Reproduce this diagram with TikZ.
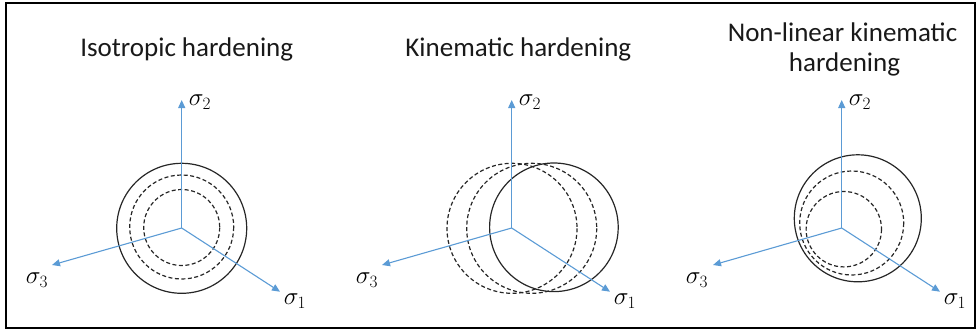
\documentclass[tikz,border=0pt]{standalone}
\usepackage{fontspec}
\setmainfont{Carlito}
\usetikzlibrary{arrows.meta}
\definecolor{axisblue}{HTML}{5B9BD5}
\begin{document}
\begin{tikzpicture}[x=1pt,y=-1pt,
  axis/.style={draw=axisblue, line width=1.1pt, -{Triangle[length=8pt,width=7pt]}},
  solidc/.style={draw=black!85, line width=1.2pt},
  dashc/.style={draw=black!85, line width=1.2pt, dash pattern=on 4pt off 2.5pt},
  title/.style={font=\fontsize{27}{31}\selectfont, text=black!90, inner sep=0pt, anchor=base},
  lab/.style={font=\fontsize{24}{24}\selectfont, inner sep=0pt}]
\useasboundingbox (0,0) rectangle (976,333);
\draw[line width=2pt] (6,2.5) rectangle (974.5,327.5);

% ---------- Panel 1: isotropic ----------
\node[title] (t1) at (186.7,56) {Isotropic hardening};
\coordinate (o1) at (181.7,228);
\coordinate (p1y) at (181.7,100);
\coordinate (p1z) at (52,265);
\coordinate (p1x) at (280,291.7);
\draw[solidc] (181.7,228.3) circle[radius=65];
\draw[dashc] (181.7,227) circle[radius=52];
\draw[dashc] (181.7,227.5) circle[radius=38];
\draw[axis] (o1) -- (p1y);
\draw[axis] (o1) -- (p1z);
\draw[axis] (o1) -- (p1x);
\node[lab] (s1y) at (200,102) {$\sigma_2$};
\node[lab] (s1z) at (37,280) {$\sigma_3$};
\node[lab] (s1x) at (295,301) {$\sigma_1$};

% ---------- Panel 2: kinematic ----------
\node[title] (t2) at (518.3,56) {Kinematic hardening};
\coordinate (o2) at (511.7,228);
\coordinate (p2y) at (511.7,100);
\coordinate (p2z) at (382,265);
\coordinate (p2x) at (610,291.7);
\draw[dashc] (512,228.3) circle[radius=65];
\draw[dashc] (531.7,228.3) circle[radius=65];
\draw[solidc] (553.9,227.3) circle[radius=64.3];
\draw[axis] (o2) -- (p2y);
\draw[axis] (o2) -- (p2z);
\draw[axis] (o2) -- (p2x);
\node[lab] (s2y) at (530,102) {$\sigma_2$};
\node[lab] (s2z) at (367,280) {$\sigma_3$};
\node[lab] (s2x) at (625,301) {$\sigma_1$};

% ---------- Panel 3: non-linear kinematic ----------
\node[title] (t3a) at (842.5,41) {Non-linear kinematic};
\node[title] (t3b) at (844.5,71.7) {hardening};
\coordinate (o3) at (841.7,228);
\coordinate (p3y) at (841.7,100);
\coordinate (p3z) at (713,265);
\coordinate (p3x) at (940,291.7);
\draw[solidc] (857.8,218.3) circle[radius=63.5];
\draw[dashc] (851.7,223) circle[radius=52];
\draw[dashc] (843.8,229.2) circle[radius=37.7];
\draw[axis] (o3) -- (p3y);
\draw[axis] (o3) -- (p3z);
\draw[axis] (o3) -- (p3x);
\node[lab] (s3y) at (860,102) {$\sigma_2$};
\node[lab] (s3z) at (697,280) {$\sigma_3$};
\node[lab] (s3x) at (955,301) {$\sigma_1$};
\end{tikzpicture}
\end{document}
